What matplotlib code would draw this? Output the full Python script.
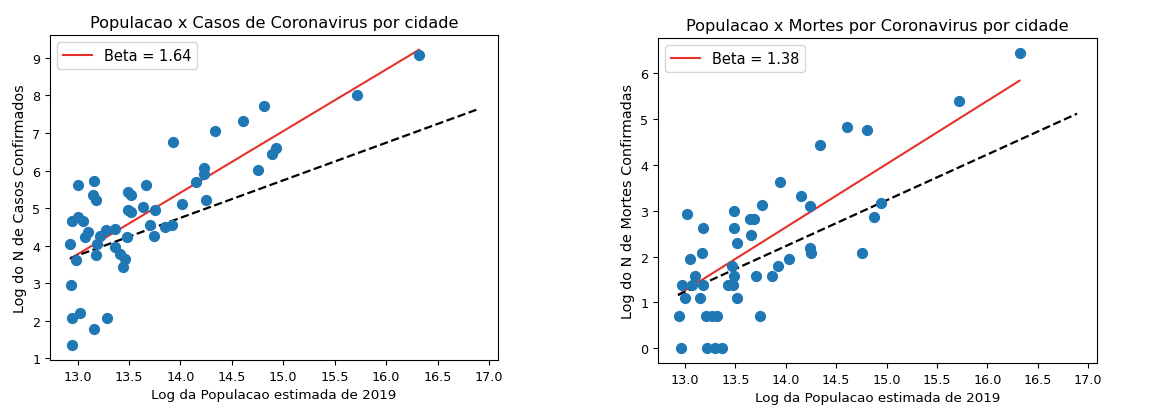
import matplotlib
matplotlib.use("Agg")
import matplotlib.pyplot as plt
import numpy as np


# Log population / log confirmed cases per city
casos_x = [12.93, 12.95, 13.00, 13.05, 13.00, 12.94, 12.95, 13.02, 12.95, 12.98,
           13.07, 13.10, 13.16, 13.15, 13.18, 13.16, 13.18, 13.19, 13.22, 13.29,
           13.28, 13.36, 13.36, 13.41, 13.46, 13.44, 13.48, 13.49, 13.49, 13.52,
           13.52, 13.64, 13.67, 13.70, 13.74, 13.75, 13.85, 13.92, 13.93, 14.02,
           14.15, 14.23, 14.23, 14.25, 14.34, 14.61, 14.75, 14.81, 14.89, 14.93,
           15.72, 16.32]
casos_y = [4.05, 4.65, 4.77, 4.65, 5.61, 2.94, 2.07, 2.20, 1.35, 3.61,
           4.23, 4.37, 5.72, 5.36, 5.21, 1.78, 3.74, 4.05, 4.26, 2.07,
           4.41, 4.45, 3.96, 3.79, 3.65, 3.43, 4.23, 4.94, 5.43, 5.36,
           4.90, 5.03, 5.61, 4.54, 4.26, 4.94, 4.50, 4.56, 6.77, 5.10,
           5.70, 6.06, 5.90, 5.21, 7.04, 7.32, 6.01, 7.73, 6.44, 6.60,
           8.00, 9.07]

# Log population / log confirmed deaths per city
mortes_x = [12.94, 12.96, 12.97, 13.00, 13.02, 13.05, 13.10, 13.07, 13.15, 13.17,
            13.18, 13.18, 13.21, 13.22, 13.27, 13.30, 13.32, 13.37, 13.43, 13.47,
            13.48, 13.49, 13.49, 13.49, 13.52, 13.52, 13.65, 13.64, 13.68, 13.70,
            13.74, 13.76, 13.86, 13.92, 13.94, 14.03, 14.15, 14.24, 14.24, 14.25,
            14.34, 14.61, 14.76, 14.81, 14.88, 14.94, 15.72, 16.32]
mortes_y = [0.70, 0.00, 1.38, 1.10, 2.93, 1.95, 1.58, 1.38, 1.10, 2.08,
            2.63, 1.38, 0.70, 0.00, 0.70, 0.00, 0.70, 0.00, 1.38, 1.79,
            1.38, 1.58, 3.00, 2.63, 2.30, 1.10, 2.47, 2.82, 2.82, 1.58,
            0.70, 3.13, 1.58, 1.79, 3.63, 1.95, 3.33, 3.10, 2.19, 2.08,
            4.44, 4.84, 2.08, 4.77, 2.86, 3.17, 5.40, 6.45]

# Fitted lines (beta, intercept) and reference line with slope 1
beta_casos, b_casos = 1.64, -17.55
beta_mortes, b_mortes = 1.38, -16.68
ref_x = [12.93, 16.89]
ref_b_casos = -9.26
ref_b_mortes = -11.77


fig = plt.figure(figsize=(11.7, 4.1), dpi=100)
ax1 = fig.add_axes([50 / 1170, 49 / 410, 448 / 1170, 325 / 410])
ax2 = fig.add_axes([658 / 1170, 46 / 410, 439 / 1170, 325 / 410])

panels = [
    (ax1, casos_x, casos_y, beta_casos, b_casos, ref_b_casos,
     'Populacao x Casos de Coronavirus por cidade', 'Log do N de Casos Confirmados'),
    (ax2, mortes_x, mortes_y, beta_mortes, b_mortes, ref_b_mortes,
     'Populacao x Mortes por Coronavirus por cidade', 'Log do N de Mortes Confirmadas'),
]

for ax, x, y, beta, b, ref_b, title, ylabel in panels:
    x = np.array(x)
    fit_x = np.array([x.min(), x.max()])
    rx = np.array(ref_x)
    ax.scatter(x, y, color='#1f77b4', s=50, zorder=3)
    ax.plot(fit_x, beta * fit_x + b, color='#e8302a', lw=1.5, label=f'Beta = {beta:.2f}')
    ax.plot(rx, rx + ref_b, color='black', ls='--', lw=1.6)
    ax.set_xticks(np.arange(13.0, 17.01, 0.5))
    ax.set_title(title, fontsize=11.6)
    ax.set_xlabel('Log da Populacao estimada de 2019', fontsize=9.7)
    ax.set_ylabel(ylabel, fontsize=10.4)
    ax.tick_params(labelsize=9.2)
    ax.legend(loc='upper left', fontsize=10.5)

fig.savefig('out.png', dpi=100)
